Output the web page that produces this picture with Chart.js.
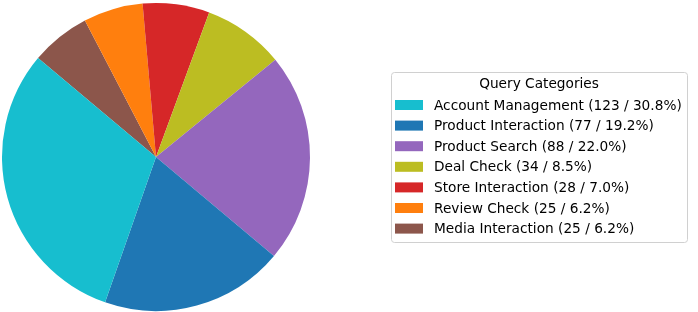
<!DOCTYPE html>
<html>
<head>
<meta charset="utf-8">
<script src="https://cdn.jsdelivr.net/npm/chart.js@4"></script>
<style>
  html, body { margin: 0; padding: 0; background: #fff; }
  #myChart { display: block; }
</style>
</head>
<body>
<canvas id="myChart" width="698" height="312"></canvas>
<script>
const categories = ['Account Management', 'Product Interaction', 'Product Search', 'Deal Check', 'Store Interaction', 'Review Check', 'Media Interaction'];
const counts = [123, 77, 88, 34, 28, 25, 25];
const percents = ['30.8', '19.2', '22.0', '8.5', '7.0', '6.2', '6.2'];
const colors = ['#17becf', '#1f77b4', '#9467bd', '#bcbd22', '#d62728', '#ff7f0e', '#8c564b'];

// matplotlib draws counterclockwise, chart.js clockwise -> reverse for the pie only
const pieLabels = categories.slice().reverse();
const pieData = counts.slice().reverse();
const pieColors = colors.slice().reverse();

// legend box drawn like matplotlib's framed legend
const boxLegend = {
  id: 'boxLegend',
  afterDraw(chart) {
    const ctx = chart.ctx;
    const x = 391, y = 72, w = 296, h = 170;
    ctx.save();
    ctx.fillStyle = 'rgba(255,255,255,0.8)';
    ctx.strokeStyle = '#d0d0d0';
    ctx.lineWidth = 1;
    ctx.beginPath();
    ctx.roundRect(x + 0.5, y + 0.5, w, h, 3);
    ctx.fill();
    ctx.stroke();

    ctx.fillStyle = '#000';
    ctx.font = '13.7px "DejaVu Sans"';
    ctx.textBaseline = 'middle';
    ctx.textAlign = 'center';
    ctx.fillText('Query Categories', x + w / 2, 84);

    ctx.textAlign = 'left';
    categories.forEach((c, i) => {
      const cy = 105 + i * 20.6;
      ctx.fillStyle = colors[i];
      ctx.fillRect(395, cy - 5, 28, 10);
      ctx.fillStyle = '#000';
      ctx.fillText(c + ' (' + counts[i] + ' / ' + percents[i] + '%)', 434, cy + 1);
    });
    ctx.restore();
  }
};

const pieChart = new Chart(document.getElementById('myChart'), {
  type: 'pie',
  data: {
    labels: pieLabels,
    datasets: [
      {
        data: pieData,
        backgroundColor: pieColors,
        borderWidth: 0,
      },
    ],
  },
  options: {
    responsive: false,
    animation: false,
    rotation: -50,
    layout: {
      padding: { left: 2, top: 3, bottom: 1, right: 388 },
    },
    plugins: {
      legend: { display: false },
      tooltip: { enabled: false },
    },
  },
  plugins: [boxLegend],
});
</script>
</body>
</html>
